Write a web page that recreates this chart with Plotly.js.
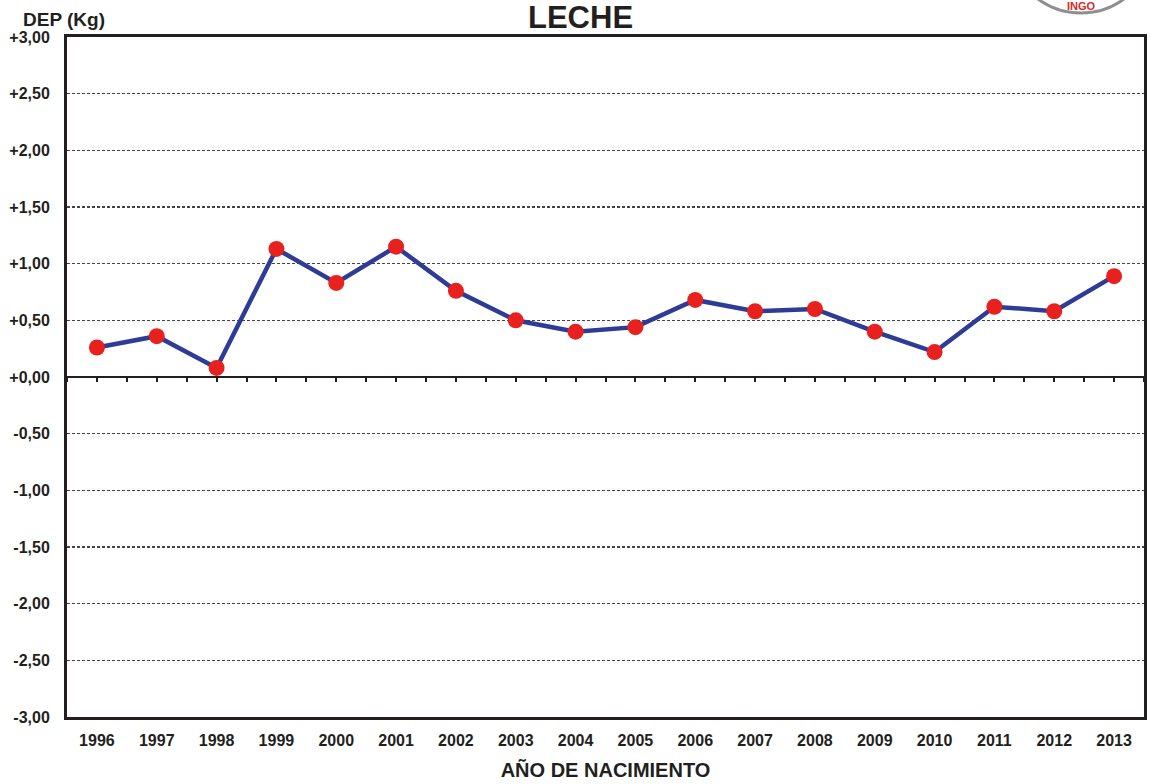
<!DOCTYPE html>
<html>
<head>
<meta charset="utf-8">
<script src="https://cdn.plot.ly/plotly-3.0.1.min.js"></script>
<style>html,body{margin:0;padding:0;background:#fff;}#chart{width:1150px;height:784px;}</style>
</head>
<body>
<div id="chart"></div>
<script>
const years = ["1996","1997","1998","1999","2000","2001","2002","2003","2004","2005","2006","2007","2008","2009","2010","2011","2012","2013"];
const dep = [0.26,0.36,0.08,1.13,0.83,1.15,0.76,0.50,0.40,0.44,0.68,0.58,0.60,0.40,0.22,0.62,0.58,0.89];
const yTickVals = [3,2.5,2,1.5,1,0.5,0,-0.5,-1,-1.5,-2,-2.5,-3];
const yTickText = ["+3,00","+2,50","+2,00","+1,50","+1,00","+0,50","+0,00","-0,50","-1,00","-1,50","-2,00","-2,50","-3,00"];
const title = "LECHE";
const yTitle = "DEP (Kg)";
const xTitle = "AÑO DE NACIMIENTO";
const logoText = "INGO";

const ink = "#231f20";
const fontFam = "Liberation Sans, Arial, sans-serif";

const trace = {
  x: years.map((_, i) => i),
  y: dep,
  type: "scatter",
  mode: "lines+markers",
  line: {color: "#2e3c96", width: 4.5},
  marker: {color: "#e8211f", size: 16},
  hoverinfo: "x+y"
};

const tickTrace = {x: [0], y: [null], xaxis: "x2", type: "scatter", hoverinfo: "skip", showlegend: false};

const layout = {
  width: 1150, height: 784,
  margin: {l: 67, r: 6, t: 37, b: 67},
  paper_bgcolor: "#fff", plot_bgcolor: "#fff",
  showlegend: false,
  font: {family: fontFam, color: ink},
  xaxis: {
    range: [-0.5, years.length - 0.5],
    tickvals: years.map((_, i) => i),
    ticktext: years,
    showgrid: false, zeroline: false,
    showline: true, linecolor: ink, linewidth: 3, mirror: true,
    ticks: "", ticklabelstandoff: 7,
    tickfont: {family: fontFam, size: 16, color: ink, weight: "bold"},
    title: {text: xTitle, font: {family: fontFam, size: 20, color: ink, weight: "bold"}, standoff: 15}
  },
  xaxis2: {
    overlaying: "x", anchor: "free", position: 0.5, side: "bottom",
    range: [-0.5, years.length - 0.5],
    dtick: 0.5, tick0: -0.5,
    ticks: "outside", ticklen: 4, tickwidth: 2, tickcolor: ink,
    showticklabels: false, showgrid: false, zeroline: false, showline: false
  },
  yaxis: {
    range: [-3, 3],
    tickvals: yTickVals, ticktext: yTickText,
    showgrid: true, gridcolor: "#444", gridwidth: 1.2, griddash: "3px,2px",
    zeroline: true, zerolinecolor: ink, zerolinewidth: 2.5,
    showline: true, linecolor: ink, linewidth: 3, mirror: true,
    ticks: "", ticklabelstandoff: 11,
    tickfont: {family: fontFam, size: 16, color: ink, weight: "bold"}
  },
  annotations: [
    {text: title, xref: "paper", yref: "paper", x: 0.4765, y: 1, yshift: 20, xanchor: "center", yanchor: "middle",
     showarrow: false, font: {family: fontFam, size: 31, color: ink, weight: "bold"}},
    {text: yTitle, xref: "paper", yref: "paper", x: -0.043, y: 1, yshift: 18, xanchor: "left", yanchor: "middle",
     showarrow: false, font: {family: fontFam, size: 19, color: ink, weight: "bold"}},
    {text: logoText, xref: "paper", yref: "paper", x: 0.942, y: 1, yshift: 31, xanchor: "center", yanchor: "middle",
     showarrow: false, font: {family: fontFam, size: 11, color: "#d42a27", weight: "bold"}}
  ],
  shapes: [
    {type: "circle", xref: "paper", yref: "paper", x0: 0.874, x1: 1.009, y0: 1.0353, y1: 1.2496,
     line: {color: "#8f8f8f", width: 3}, fillcolor: "rgba(0,0,0,0)", layer: "above"}
  ]
};

Plotly.newPlot("chart", [trace, tickTrace], layout, {displayModeBar: false, staticPlot: true});
</script>
</body>
</html>
